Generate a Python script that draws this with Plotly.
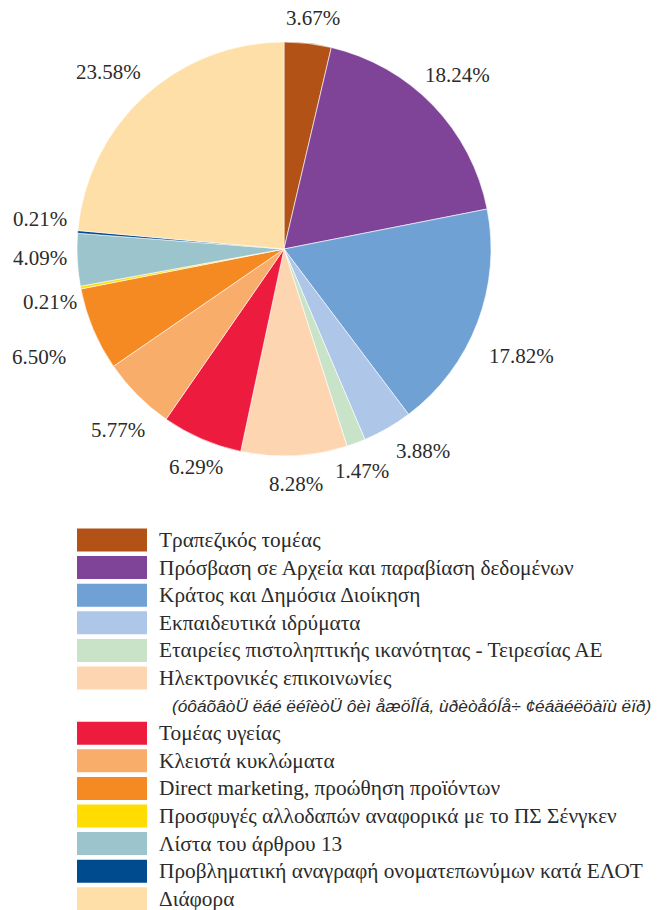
"""
Pie chart of complaint categories (Greek), labels outside, custom legend below.
"""

import math
import plotly.graph_objects as go

W, H = 658, 910

labels = [
    "Τραπεζικός τομέας",
    "Πρόσβαση σε Αρχεία και παραβίαση δεδομένων",
    "Κράτος και Δημόσια Διοίκηση",
    "Εκπαιδευτικά ιδρύματα",
    "Εταιρείες πιστοληπτικής ικανότητας - Τειρεσίας ΑΕ",
    "Ηλεκτρονικές επικοινωνίες",
    "Τομέας υγείας",
    "Κλειστά κυκλώματα",
    "Direct marketing, προώθηση προϊόντων",
    "Προσφυγές αλλοδαπών αναφορικά με το ΠΣ Σένγκεν",
    "Λίστα του άρθρου 13",
    "Προβληματική αναγραφή ονοματεπωνύμων κατά ΕΛΟΤ",
    "Διάφορα",
]
values = [3.67, 18.24, 17.82, 3.88, 1.47, 8.28, 6.29, 5.77, 6.50, 0.21, 4.09, 0.21, 23.58]
colors = [
    "#B35216", "#7F4498", "#6FA1D4", "#AEC6E8", "#C8E3C8", "#FDD5B0", "#ED1B3D",
    "#F9AD6B", "#F58A23", "#FFDD00", "#9BC4CC", "#004B8D", "#FEDFA7",
]
# second line under "Ηλεκτρονικές επικοινωνίες" (kept as it appears)
subnote = "(óôáõâòÜ ëáé ëéîèòÜ ôèì åæöÎÍá, ùðèòåóÍå÷ ¢éáäéëöàïù ëïð)"

SERIF = "Liberation Serif, Times New Roman, serif"
TEXT = "#2b2b2b"

# pie geometry in pixels
cx, cy, r = 284, 249, 207
label_gap = 16
# hand nudges (px) for the outside labels, like the original layout
nudges = [(0, 0), (-10, -12), (0, 24), (14, 0), (-9, 4), (0, 2), (11, 4),
          (11, 17), (-15, 18), (11, 10), (5, -3), (5, -11), (-4, -5)]

fig = go.Figure()

fig.add_trace(go.Pie(
    labels=labels,
    values=values,
    sort=False,
    direction="clockwise",
    rotation=0,
    marker=dict(colors=colors, line=dict(color="white", width=0.6)),
    textinfo="none",
    showlegend=False,
    hoverinfo="label+value",
    domain=dict(
        x=[(cx - r) / W, (cx + r) / W],
        y=[1 - (cy + r) / H, 1 - (cy - r) / H],
    ),
))

annotations = []

# percentage labels outside each slice
total = sum(values)
cum = 0.0
for v, (ndx, ndy) in zip(values, nudges):
    theta = 2 * math.pi * (cum + v / 2) / total
    cum += v
    s, c = math.sin(theta), math.cos(theta)
    txt = f"{v:.2f}%"
    hw = len(txt) * 5.3
    hh = 10
    x = cx + (r + label_gap + hw) * s + ndx
    y = cy - (r + label_gap) * c - hh * c + ndy
    annotations.append(dict(
        x=x / W, y=1 - y / H, xref="paper", yref="paper",
        text=txt, showarrow=False, xanchor="center", yanchor="middle",
        font=dict(family=SERIF, size=21, color=TEXT),
    ))

# Custom legend: big colour swatches plus labels
row0, step = 540, 27.6
sw_x0, sw_x1, sw_h = 77, 147, 23
text_x = 157

shapes = []
row = 0
for name, col in zip(labels, colors):
    yc = row0 + row * step
    shapes.append(dict(
        type="rect", xref="paper", yref="paper",
        x0=sw_x0 / W, x1=sw_x1 / W,
        y0=1 - (yc + sw_h / 2) / H, y1=1 - (yc - sw_h / 2) / H,
        fillcolor=col, line=dict(width=0),
    ))
    annotations.append(dict(
        x=text_x / W, y=1 - yc / H, xref="paper", yref="paper",
        text=name, showarrow=False, xanchor="left", yanchor="middle",
        font=dict(family=SERIF, size=21.3, color=TEXT),
    ))
    row += 1
    if name == "Ηλεκτρονικές επικοινωνίες":
        yc = row0 + row * step
        annotations.append(dict(
            x=170 / W, y=1 - yc / H, xref="paper", yref="paper",
            text=subnote, showarrow=False, xanchor="left", yanchor="middle",
            font=dict(family="Liberation Sans, Arial, sans-serif", size=17.3,
                      color=TEXT, style="italic"),
        ))
        row += 1

fig.update_layout(
    width=W,
    height=H,
    margin=dict(l=0, r=0, t=0, b=0),
    paper_bgcolor="white",
    plot_bgcolor="white",
    shapes=shapes,
    annotations=annotations,
)

fig.write_html(
    "out.html",
    config={"displayModeBar": False},
    post_script="document.body.style.margin='0';",
)
